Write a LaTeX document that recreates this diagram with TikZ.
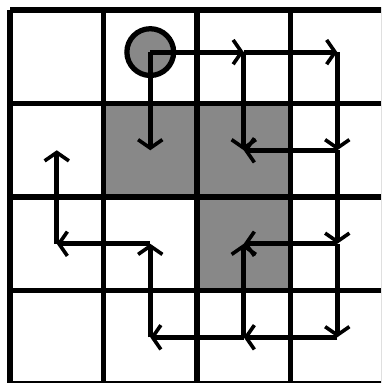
\documentclass[tikz,border=0pt]{standalone}
\usepackage{tikz}
\usetikzlibrary{arrows.meta}
\definecolor{wall}{HTML}{888888}

\begin{document}
\begin{tikzpicture}[x=1cm,y=-1cm,
  gridline/.style={line width=1.8pt},
  wallcell/.style={fill=wall},
  startdot/.style={circle,draw,fill=wall,line width=1.6pt,
    minimum size=0.5cm,inner sep=0pt},
  link/.style={-{Straight Barb[length=0.9mm,width=2.6mm,line width=1.1pt]},
    line width=1.5pt}
]
  \clip (-0.107,-0.107) rectangle (3.968,3.989);
  \fill[wallcell] (1,1) rectangle (3,2);
  \fill[wallcell] (2,2) rectangle (3,3);
  \draw[gridline] (0,0) grid (4,4);

  \coordinate (c20) at (2.5,0.45);
  \coordinate (c30) at (3.5,0.45);
  \coordinate (c01) at (0.5,1.5);
  \coordinate (c11) at (1.5,1.5);
  \coordinate (c21) at (2.5,1.5);
  \coordinate (c31) at (3.5,1.5);
  \coordinate (c02) at (0.5,2.5);
  \coordinate (c12) at (1.5,2.5);
  \coordinate (c22) at (2.5,2.5);
  \coordinate (c32) at (3.5,2.5);
  \coordinate (c13) at (1.5,3.5);
  \coordinate (c23) at (2.5,3.5);
  \coordinate (c33) at (3.5,3.5);

  \node[startdot] (start) at (1.5,0.45) {};

  \draw[link] (start.center) -- (c11);
  \draw[link] (start.center) -- (c20);
  \draw[link] (c20) -- (c30);
  \draw[link] (c20) -- (c21);
  \draw[link] (c30) -- (c31);
  \draw[link] (c31) -- (c21);
  \draw[link] (c31) -- (c32);
  \draw[link] (c32) -- (c22);
  \draw[link] (c32) -- (c33);
  \draw[link] (c33) -- (c23);
  \draw[link] (c23) -- (c22);
  \draw[link] (c23) -- (c13);
  \draw[link] (c13) -- (c12);
  \draw[link] (c12) -- (c02);
  \draw[link] (c02) -- (c01);
\end{tikzpicture}
\end{document}
